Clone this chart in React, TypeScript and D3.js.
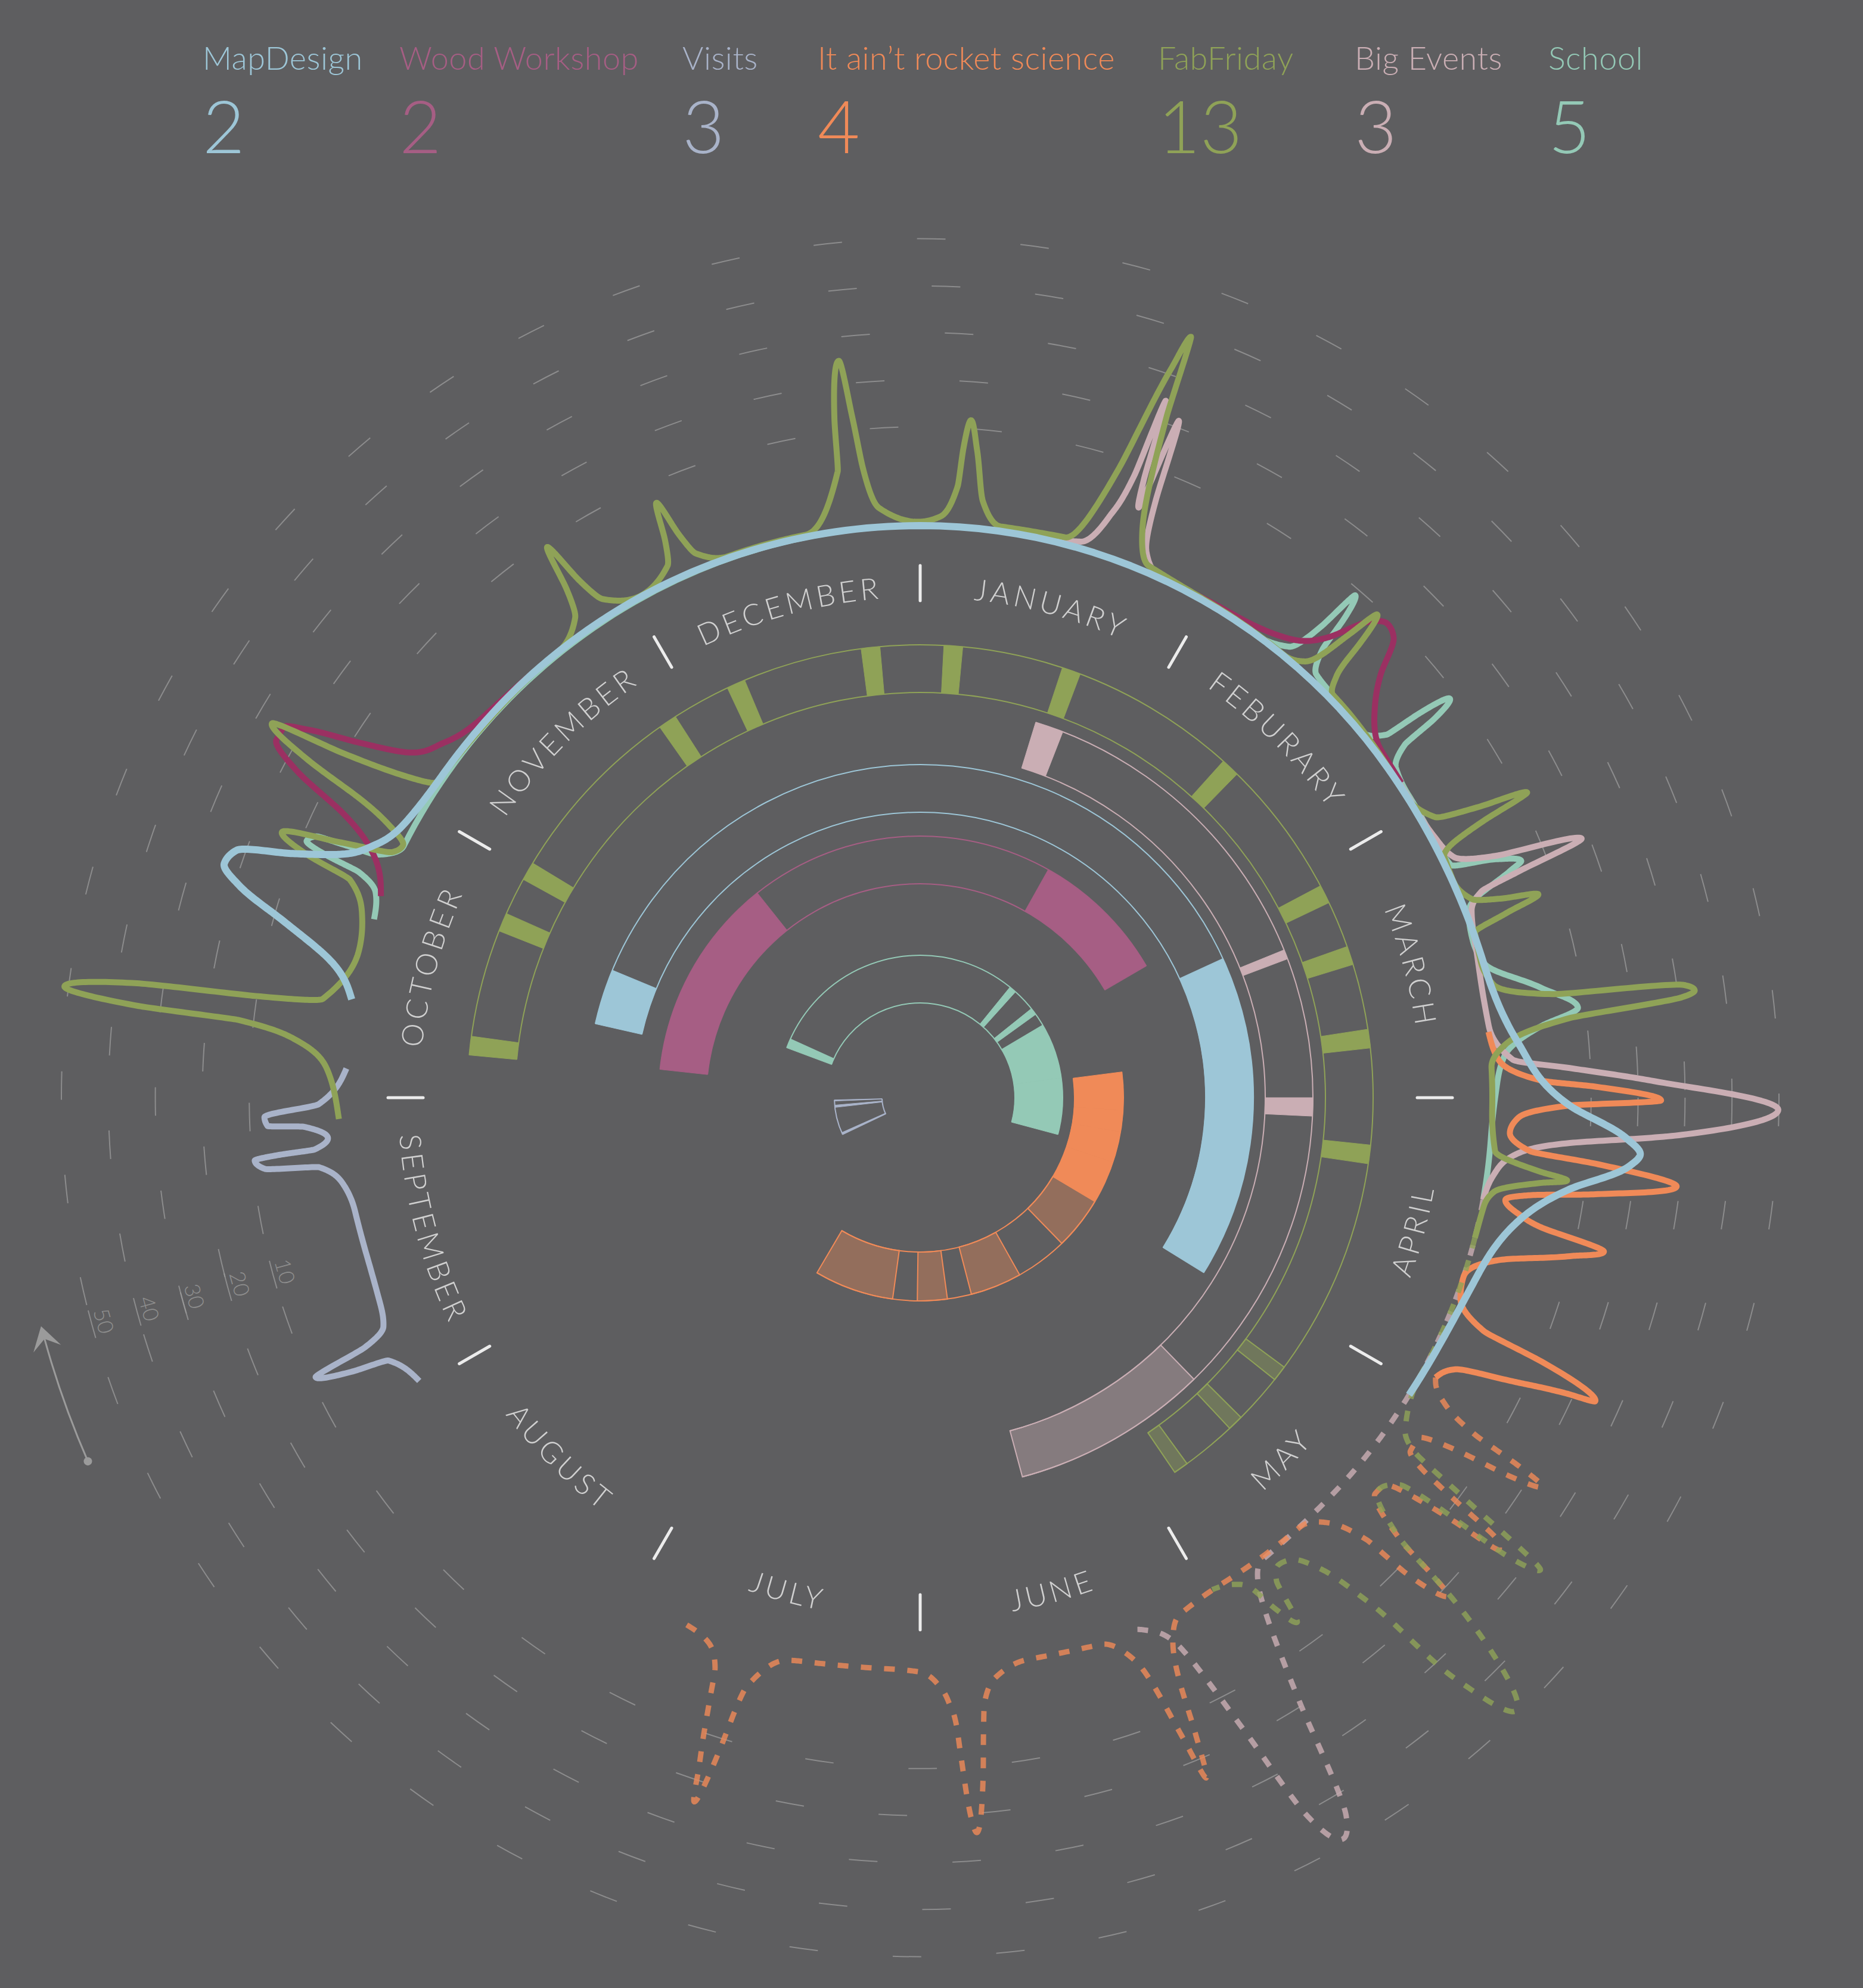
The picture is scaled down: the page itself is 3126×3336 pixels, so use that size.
import * as d3 from "d3";

// ---------- layout ----------
const WIDTH = 3126;
const HEIGHT = 3336;
const CX = 1544;
const CY = 1842;
const BG = "#5e5e60";
const FONT = "Lato, 'Open Sans', sans-serif";

// ---------- legend ----------
const categories = ["MapDesign", "Wood Workshop", "Visits", "It ain\u2019t rocket science", "FabFriday", "Big Events", "School"];
const eventCounts = [2, 2, 3, 4, 13, 3, 5];
const categoryColors = ["#9dc6d7", "#a65e84", "#a9b3c9", "#f08a58", "#8fa257", "#caaeb4", "#94c9b6"];
const legendX = [340, 670, 1145, 1372, 1943, 2273, 2598];

const months = ["JANUARY", "FEBURARY", "MARCH", "APRIL", "MAY", "JUNE", "JULY", "AUGUST", "SEPTEMBER", "OCTOBER", "NOVEMBER", "DECEMBER"];
const gridTicks = [10, 20, 30, 40, 50];

// ---------- ring bars: [start, end] in months (Jan 1 = 0) ----------
const visitsBars = [[8.15, 8.2], [8.783, 8.833], [8.927, 8.95]];
const schoolBars = [[9.683, 9.813], [1.303, 1.4], [1.71, 1.807], [1.977, 2.733], [2.733, 3.5]];
const rocketBars = [[2.757, 3.117], [3.117, 3.323], [3.323, 3.617], [3.617, 4.023]];
const rocketPlannedBars = [[4.023, 4.527], [5.023, 5.513], [5.743, 6.027], [6.26, 7.017]];
const woodBars = [[9.207, 10.717], [0.977, 1.993]];
const mapDesignBars = [[9.427, 9.75], [2.177, 4.057]];
const bigEventsBars = [[0.57, 0.71], [2.263, 2.31], [3.0, 3.09]];
const bigEventsPlannedBars = [[4.527, 5.497]];
const fabFridayBars = [
  [9.18, 9.26], [9.72, 9.8], [9.96, 10.04], [10.83, 10.91], [11.16, 11.24], [11.75, 11.83], [0.1, 0.18],
  [0.61, 0.69], [1.4, 1.48], [2.07, 2.15], [2.35, 2.43], [2.71, 2.79], [3.2, 3.28],
];
const fabFridayPlannedBars = [[4.217, 4.283], [4.497, 4.563], [4.797, 4.86]];

// ---------- attendance lines: [months counted from Jan 1 of the first year, people] ----------
const visitsLine = [[8.017, 0.7], [8.123, 4.4], [8.143, 12.7], [8.173, 19.7], [8.193, 7.7], [8.23, 2.4], [8.307, 1.2], [8.463, 0.7], [8.62, 0.9], [8.717, 2.4], [8.78, 6.9], [8.793, 18.2], [8.82, 20.2], [8.83, 15], [8.837, 7.5], [8.87, 4.5], [8.91, 9.4], [8.917, 17], [8.943, 17.6], [8.98, 6.1], [9.097, 0.5]];
const schoolLine = [[9.603, 0.5], [9.687, 2], [9.73, 6.9], [9.74, 14.25], [9.757, 19.5], [9.78, 18], [9.79, 12], [9.803, 4.9], [9.867, 0.5], [11.0, 0], [13.2, 0], [13.31, 2.25], [13.347, 10], [13.363, 19.4], [13.383, 14.5], [13.397, 6.3], [13.437, 1.6], [13.52, 0.9], [13.68, 0.4], [13.737, 4], [13.747, 12.3], [13.767, 19.1], [13.787, 14], [13.797, 5.9], [13.843, 1.4], [13.933, 0.5], [14.1, 0.5], [14.21, 1.5], [14.25, 10.7], [14.283, 15.5], [14.297, 13], [14.343, 3.6], [14.383, 1.25], [14.477, 0.5], [14.553, 1.6], [14.667, 12.4], [14.74, 19.25], [14.78, 11.25], [14.863, 2.9], [14.983, 0.75], [15.137, 0], [15.337, 0]];
const bigEventsLine = [[12.4, 0.3], [12.537, 1.4], [12.6, 8], [12.633, 18], [12.647, 35], [12.663, 18], [12.677, 12], [12.697, 32], [12.717, 15], [12.75, 4], [12.817, 0.5], [13.0, 0], [14.0, 0.3], [14.107, 1], [14.19, 2.75], [14.24, 10.9], [14.287, 29], [14.31, 14], [14.327, 5.5], [14.377, 2.1], [14.533, 0.5], [14.67, 0], [14.76, 0.2], [14.877, 4.5], [14.913, 16.4], [14.957, 34], [15.027, 60], [15.093, 40], [15.133, 16.6], [15.187, 4.9], [15.26, 1.25], [15.343, 0]];
const bigEventsPlanned = [[15.343, 0], [15.733, 0], [16.117, 0], [16.453, 0], [16.783, 0.6], [16.84, 4.25], [16.93, 30], [16.977, 55], [17.01, 59], [17.057, 50.75], [17.093, 30.7], [17.143, 10.7], [17.167, 5.7], [17.24, 1.1], [17.283, 0]];
const rocketLine = [[14.78, 0], [14.873, 1.5], [14.947, 10.25], [14.97, 22.25], [15.007, 35.4], [15.023, 16.25], [15.063, 5.6], [15.113, 3.9], [15.167, 8.4], [15.187, 22.9], [15.223, 39.75], [15.27, 23.6], [15.303, 9.5], [15.33, 4.6], [15.367, 7.9], [15.393, 13], [15.423, 27], [15.457, 20.25], [15.523, 6], [15.607, 0], [15.683, 1], [15.75, 8], [15.767, 21.5], [15.807, 35.25], [15.82, 29], [15.853, 17.75], [15.897, 5.9], [15.95, 3]];
const rocketPlanned = [[15.95, 3], [16.003, 6.6], [16.043, 16.4], [16.053, 27], [16.067, 34], [16.09, 27], [16.107, 16.5], [16.147, 6.5], [16.193, 6.75], [16.217, 11], [16.233, 21], [16.247, 32], [16.267, 34], [16.283, 21.6], [16.303, 11.7], [16.33, 6.75], [16.367, 6.5], [16.423, 17.5], [16.433, 27], [16.443, 32.4], [16.48, 22.4], [16.49, 12], [16.55, 2.75], [16.617, 0.25], [16.933, 0], [17.107, 1.25], [17.157, 4.25], [17.203, 14.75], [17.22, 25.4], [17.24, 34.75], [17.257, 24.75], [17.273, 15], [17.31, 5.6], [17.393, 0.75], [17.64, 0], [17.75, 2.5], [17.797, 7.5], [17.81, 13.75], [17.825, 24], [17.853, 34.6], [17.87, 28.6], [17.883, 17.4], [17.89, 11.75], [17.91, 6.9], [17.947, 2.75], [18.007, 0.4], [18.097, 0], [18.333, 0.5], [18.443, 1.25], [18.547, 8.75], [18.56, 14.1], [18.57, 23.5], [18.593, 35.1], [18.61, 27.6], [18.623, 22.25], [18.643, 13.4], [18.66, 7], [18.713, 2.4], [18.8, 0.9]];
const woodLine = [[9.683, 0.75], [9.82, 7.25], [9.877, 15.5], [9.923, 27.75], [9.97, 34.5], [10.007, 34.5], [10.033, 30], [10.077, 19.4], [10.137, 9.1], [10.223, 4.6], [10.377, 1.5], [10.667, 0.5], [12.0, 0], [12.667, 0], [13.09, 0.75], [13.273, 3], [13.387, 9.25], [13.443, 17.1], [13.487, 19.6], [13.527, 18.5], [13.58, 11.25], [13.66, 4.75], [13.763, 1.1], [13.893, 0.6]];
const fabFridayLine = [[8.93, 2], [9.087, 4.4], [9.173, 11], [9.217, 24], [9.223, 45], [9.247, 61], [9.277, 46], [9.29, 21], [9.313, 7], [9.487, 1.7], [9.597, 3], [9.697, 8], [9.72, 18], [9.753, 25], [9.793, 12.7], [9.833, 2], [9.867, 0.7], [9.9, 4.2], [9.937, 13.5], [9.963, 26.7], [10.0, 37], [10.027, 21.4], [10.07, 6.4], [10.107, 1], [10.4, 0.3], [10.7, 0.5], [10.81, 4], [10.84, 10], [10.863, 19.5], [10.887, 10], [10.917, 4], [11.033, 0.5], [11.153, 3.5], [11.18, 8.5], [11.203, 16.5], [11.227, 8.5], [11.253, 3.5], [11.35, 0.5], [11.617, 0.5], [11.75, 12.5], [11.76, 23.5], [11.79, 35.5], [11.81, 23.5], [11.827, 12.5], [11.867, 4], [11.993, 0.8], [12.067, 2], [12.117, 8.5], [12.127, 16.5], [12.143, 22.5], [12.167, 16.5], [12.2, 5.8], [12.267, 1], [12.483, 1.4], [12.583, 18], [12.633, 41.6], [12.653, 49.4], [12.663, 32], [12.717, 7], [12.777, 1.4], [13.0, 0.3], [13.313, 0.2], [13.38, 2], [13.41, 6.4], [13.427, 12.6], [13.447, 19.5], [13.47, 12], [13.477, 7.5], [13.493, 3.5], [13.523, 1], [13.577, 0.9], [13.943, 0], [14.047, 3], [14.083, 12], [14.11, 22.5], [14.127, 12], [14.153, 3], [14.177, 1], [14.263, 0.7], [14.34, 3], [14.37, 9], [14.393, 16.5], [14.417, 9], [14.447, 1.4], [14.547, 1], [14.627, 2.5], [14.69, 14.4], [14.72, 41.9], [14.737, 44], [14.75, 41], [14.767, 17.25], [14.823, 3.6], [14.9, 0], [15.04, 0], [15.177, 1.1], [15.227, 11], [15.243, 16.8], [15.26, 11.6], [15.31, 2], [15.363, 0.4], [15.473, 0]];
const fabFridayPlanned = [[15.473, 0], [15.733, 0], [15.967, 0], [16.147, 3.3], [16.187, 7.4], [16.213, 22.4], [16.243, 43.5], [16.267, 35.6], [16.277, 19.5], [16.297, 9.3], [16.353, 6.5], [16.42, 16.8], [16.44, 32], [16.473, 47.8], [16.527, 59.3], [16.57, 49], [16.59, 39], [16.6, 28.5], [16.62, 18.7], [16.64, 12.5], [16.663, 8.5], [16.703, 4.5], [16.75, 3.5], [16.787, 6], [16.81, 15.5], [16.84, 10.6], [16.867, 4], [16.903, 1.6], [16.977, 0]];
const mapDesignLine = [[9.327, 1], [9.45, 8.5], [9.517, 18.6], [9.577, 29.6], [9.62, 34], [9.663, 32.5], [9.707, 21.6], [9.76, 11.75], [9.83, 6], [9.96, 2.1], [10.14, 0.9], [10.607, 0.5], [11.0, 0.3], [12.0, 0], [13.833, 0], [14.553, 1.5], [14.827, 6], [15.023, 16.25], [15.11, 28.4], [15.15, 31.5], [15.183, 29.5], [15.267, 17.6], [15.41, 7.1], [15.643, 2.1], [16.043, 0]];

// ring order from the centre outwards, with radii
const rings = [
  { color: categoryColors[2], bars: visitsBars, planned: [], r: [64, 144] },
  { color: categoryColors[6], bars: schoolBars, planned: [], r: [159, 239] },
  { color: categoryColors[3], bars: rocketBars, planned: rocketPlannedBars, r: [259, 341] },
  { color: categoryColors[1], bars: woodBars, planned: [], r: [359, 439] },
  { color: categoryColors[0], bars: mapDesignBars, planned: [], r: [479, 559] },
  { color: categoryColors[5], bars: bigEventsBars, planned: bigEventsPlannedBars, r: [579, 659] },
  { color: categoryColors[4], bars: fabFridayBars, planned: fabFridayPlannedBars, r: [680, 760] },
];

// drawing order for the lines, bottom first
const lines = [
  { color: categoryColors[2], done: visitsLine, planned: [] },
  { color: categoryColors[6], done: schoolLine, planned: [] },
  { color: categoryColors[5], done: bigEventsLine, planned: bigEventsPlanned },
  { color: categoryColors[3], done: rocketLine, planned: rocketPlanned },
  { color: "#9b3062", done: woodLine, planned: [] },
  { color: categoryColors[4], done: fabFridayLine, planned: fabFridayPlanned },
  { color: categoryColors[0], done: mapDesignLine, planned: [], width: 12 },
];

const acad = (m: number) => (m < 8 ? m + 12 : m);

// smooth the series in (month, people) space, then bend the samples round the dial
function radialSmooth(data: number[][], angle: (m: number) => number, radius: (v: number) => number) {
  const pts: number[][] = [];
  let x0 = 0, y0 = 0;
  const ctx = {
    moveTo(x: number, y: number) { pts.push([x, y]); x0 = x; y0 = y; },
    lineTo(x: number, y: number) {
      const n = Math.max(2, Math.ceil(Math.abs(x - x0) * 80));
      for (let i = 1; i <= n; i++) pts.push([x0 + ((x - x0) * i) / n, y0 + ((y - y0) * i) / n]);
      x0 = x; y0 = y;
    },
    bezierCurveTo(x1: number, y1: number, x2: number, y2: number, x: number, y: number) {
      const n = 28;
      for (let i = 1; i <= n; i++) {
        const t = i / n, u = 1 - t;
        pts.push([
          u * u * u * x0 + 3 * u * u * t * x1 + 3 * u * t * t * x2 + t * t * t * x,
          u * u * u * y0 + 3 * u * u * t * y1 + 3 * u * t * t * y2 + t * t * t * y,
        ]);
      }
      x0 = x; y0 = y;
    },
    closePath() {},
  };
  d3.line<number[]>().x((d) => d[0]).y((d) => d[1]).curve(d3.curveMonotoneX).context(ctx as any)(data);
  return d3.lineRadial<number[]>()(pts.map(([m, v]) => [angle(m), radius(v)] as [number, number])) ?? "";
}

export default function App() {
  const angle = d3.scaleLinear().domain([0, 12]).range([0, 2 * Math.PI]);
  const radius = d3.scaleLinear().domain([0, 60]).range([960, 1440]);
  const gridR = d3.scaleLinear().domain([0, 50]).range([1047, 1441]);

  const arc = d3.arc<any>();
  const barPath = (b: number[], r: number[]) =>
    arc({ innerRadius: r[0], outerRadius: r[1], startAngle: angle(acad(b[0])), endAngle: angle(acad(b[1])) }) ?? "";

  const arcLine = (r: number, a0: number, a1: number) => {
    const p = d3.path();
    p.arc(0, 0, r, a0 - Math.PI / 2, a1 - Math.PI / 2, a1 < a0);
    return p.toString();
  };

  const deg = Math.PI / 180;
  const axisAngle = 254.7 * deg;

  const arrowR = 1524;
  const arrowA0 = 246.4 * deg;
  const arrowA1 = 254.6 * deg;

  return (
    <svg width={WIDTH} height={HEIGHT} style={{ position: "absolute", left: 0, top: 0, display: "block" }} fontFamily={FONT}>
      <rect width={WIDTH} height={HEIGHT} fill={BG} />

      {/* legend */}
      {categories.map((c, i) => (
        <g key={c}>
          <text x={legendX[i]} y={117} fontSize={54} fontWeight={300} letterSpacing={0.5} fill={categoryColors[i]}>{c}</text>
          <text x={legendX[i]} y={257} fontSize={122} fontWeight={300} fill={categoryColors[i]}>{eventCounts[i]}</text>
        </g>
      ))}

      <g transform={`translate(${CX},${CY})`}>
        {/* dashed reference rings */}
        {gridTicks.map((t) => (
          <path key={t} d={arcLine(gridR(t), Math.PI / 2, Math.PI / 2 + 2 * Math.PI)} fill="none" stroke="#9c9c9c"
            strokeOpacity={0.75} strokeWidth={2} strokeDasharray="48 126" />
        ))}
        {gridTicks.map((t) => {
          const r = gridR(t);
          const half = 24 / r;
          const rt = r - 22;
          return (
            <g key={t}>
              <path d={arcLine(r, axisAngle - half, axisAngle + half)} fill="none" stroke="#9c9c9c" strokeOpacity={0.75} strokeWidth={2} />
              <text transform={`translate(${rt * Math.sin(axisAngle)},${-rt * Math.cos(axisAngle)}) rotate(${axisAngle / deg - 180})`}
                textAnchor="middle" dominantBaseline="central" fontSize={36} fontWeight={300} fill="#8e8e8e">{t}</text>
            </g>
          );
        })}

        {/* direction arrow */}
        <path d={arcLine(arrowR, arrowA0, arrowA1)} fill="none" stroke="#9b9b9b" strokeWidth={3} />
        <circle cx={arrowR * Math.sin(arrowA0)} cy={-arrowR * Math.cos(arrowA0)} r={7} fill="#9b9b9b" />
        <path transform={`translate(${arrowR * Math.sin(arrowA1)},${-arrowR * Math.cos(arrowA1)}) rotate(${arrowA1 / deg + 90})`}
          d="M0,-22L24,17L0,0L-24,17Z" fill="#9b9b9b" />

        {/* inner rings */}
        {rings.map((ring, i) => {
          const all = [...ring.bars, ...ring.planned].map((b) => [acad(b[0]), acad(b[1])]);
          const s = angle(d3.min(all, (b) => b[0])!);
          const e = angle(d3.max(all, (b) => b[1])!);
          return (
            <g key={i}>
              <path d={arcLine(ring.r[0], s, e)} fill="none" stroke={ring.color} strokeWidth={2} />
              <path d={arcLine(ring.r[1], s, e)} fill="none" stroke={ring.color} strokeWidth={2} />
              {ring.bars.map((b, j) => (
                <path key={j} d={barPath(b, ring.r)} fill={ring.color} stroke={ring.color} strokeWidth={1} />
              ))}
              {ring.planned.map((b, j) => (
                <path key={"p" + j} d={barPath(b, ring.r)} fill={ring.color} fillOpacity={0.37} stroke={ring.color} strokeWidth={2} />
              ))}
            </g>
          );
        })}

        {/* month ticks and names */}
        {months.map((m, i) => {
          const a = (i * Math.PI) / 6;
          return (
            <line key={m} x1={834 * Math.sin(a)} y1={-834 * Math.cos(a)} x2={893 * Math.sin(a)} y2={-893 * Math.cos(a)}
              stroke="#ececec" strokeWidth={5} strokeLinecap="round" />
          );
        })}
        {months.map((m, i) => {
          const a0 = (i * Math.PI) / 6;
          const a1 = ((i + 1) * Math.PI) / 6;
          const top = Math.cos((a0 + a1) / 2) > 0;
          const r = top ? 840 : 876;
          const p = (a: number) => `${r * Math.sin(a)},${-r * Math.cos(a)}`;
          const d = top ? `M${p(a0)}A${r},${r} 0 0 1 ${p(a1)}` : `M${p(a1)}A${r},${r} 0 0 0 ${p(a0)}`;
          return (
            <g key={m}>
              <path id={`month-${i}`} d={d} fill="none" />
              <text fontSize={50} fontWeight={300} fill="#d0d0d0" letterSpacing={6}>
                <textPath href={`#month-${i}`} startOffset="50%" textAnchor="middle">{m}</textPath>
              </text>
            </g>
          );
        })}

        {/* attendance lines */}
        {lines.map((l, i) => (
          <g key={i}>
            {l.planned.length > 0 && (
              <path d={radialSmooth(l.planned, angle, radius)} fill="none" stroke={l.color} strokeOpacity={0.8} strokeWidth={9}
                strokeDasharray="18 21" />
            )}
            <path d={radialSmooth(l.done, angle, radius)} fill="none" stroke={l.color} strokeWidth={l.width ?? 10} strokeLinejoin="round" />
          </g>
        ))}
      </g>
    </svg>
  );
}
